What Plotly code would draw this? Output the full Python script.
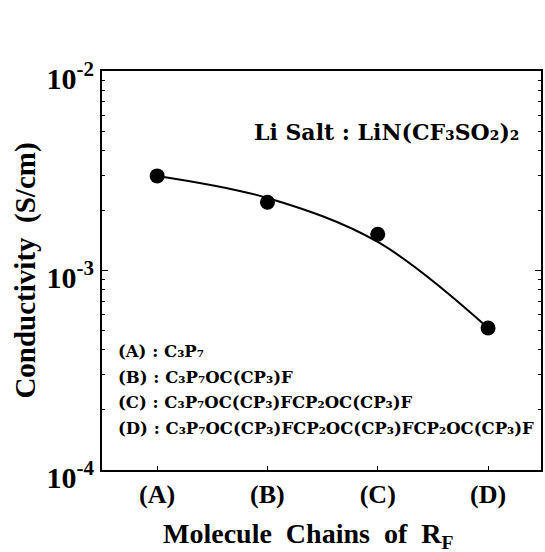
import plotly.graph_objects as go

categories = ["(A)", "(B)", "(C)", "(D)"]
x_pos = [0, 1, 2, 3]
conductivity = [2.98e-3, 2.2e-3, 1.52e-3, 5.15e-4]
# fitted curve at each category
fit_curve = [2.98e-3, 2.31e-3, 1.39e-3, 5.15e-4]
legend_lines = [
    "(A) : C₃P₇",
    "(B) : C₃P₇OC(CP₃)F",
    "(C) : C₃P₇OC(CP₃)FCP₂OC(CP₃)F",
    "(D) : C₃P₇OC(CP₃)FCP₂OC(CP₃)FCP₂OC(CP₃)F",
]
salt_label = "Li Salt : LiN(CF₃SO₂)₂"
x_title = "Molecule  Chains  of  R<sub>F</sub>"
y_title = "Conductivity  (S/cm)"
y_tickvals = [1e-4, 1e-3, 1e-2]
y_ticktext = ["10<sup>-4</sup>", "10<sup>-3</sup>", "10<sup>-2</sup>"]
y_minor = [m * 10.0 ** e for e in (-4, -3) for m in range(2, 10)]

SERIF = "Liberation Serif"
WIDE = "DejaVu Serif"

fig = go.Figure()
fig.add_trace(go.Scatter(x=x_pos, y=fit_curve, mode="lines", line_shape="spline",
                         line=dict(color="black", width=2), showlegend=False))
fig.add_trace(go.Scatter(x=x_pos, y=conductivity, mode="markers",
                         marker=dict(color="black", size=15), showlegend=False))

fig.add_annotation(x=0.955, y=0.848, xref="paper", yref="paper", xanchor="right",
                   yanchor="middle", showarrow=False, text=salt_label,
                   font=dict(family=WIDE, size=22, color="black", weight="bold"))

for i, t in enumerate(legend_lines):
    fig.add_annotation(x=0.033, y=0.297 - i * 0.064, xref="paper", yref="paper",
                       xanchor="left", yanchor="middle", showarrow=False, text=t,
                       font=dict(family=WIDE, size=16.5, color="black", weight="bold"))

# x axis title (placed slightly left of the plot centre, as in the reference)
fig.add_annotation(x=0.469, y=-0.163, xref="paper", yref="paper",
                   xanchor="center", yanchor="middle", showarrow=False, text=x_title,
                   font=dict(family=SERIF, size=28, color="black", weight="bold"))

fig.update_layout(
    width=545, height=552,
    margin=dict(l=102, r=2, t=71, b=82),
    plot_bgcolor="white", paper_bgcolor="white",
    font=dict(family=SERIF, color="black"),
    xaxis=dict(
        range=[-0.5, 3.48], tickvals=x_pos, ticktext=categories,
        tickfont=dict(family=SERIF, size=26, color="black", weight="bold"),
        ticks="inside", ticklen=4, tickcolor="black",
        showline=True, linecolor="black", linewidth=2, mirror=True,
        showgrid=False, zeroline=False,
    ),
    yaxis=dict(
        type="log", range=[-4, -2], tickvals=y_tickvals, ticktext=y_ticktext,
        tickfont=dict(family=SERIF, size=30, color="black", weight="bold"),
        ticks="inside", ticklen=6, tickcolor="black", ticklabelshift=7,
        minor=dict(tickvals=y_minor, ticks="inside", ticklen=3, tickcolor="black", showgrid=False),
        showline=True, linecolor="black", linewidth=2, mirror="ticks",
        showgrid=False, zeroline=False,
        title=dict(text=y_title, standoff=2,
                   font=dict(family=SERIF, size=29, color="black", weight="bold")),
    ),
)

fig.write_html("out.html")
